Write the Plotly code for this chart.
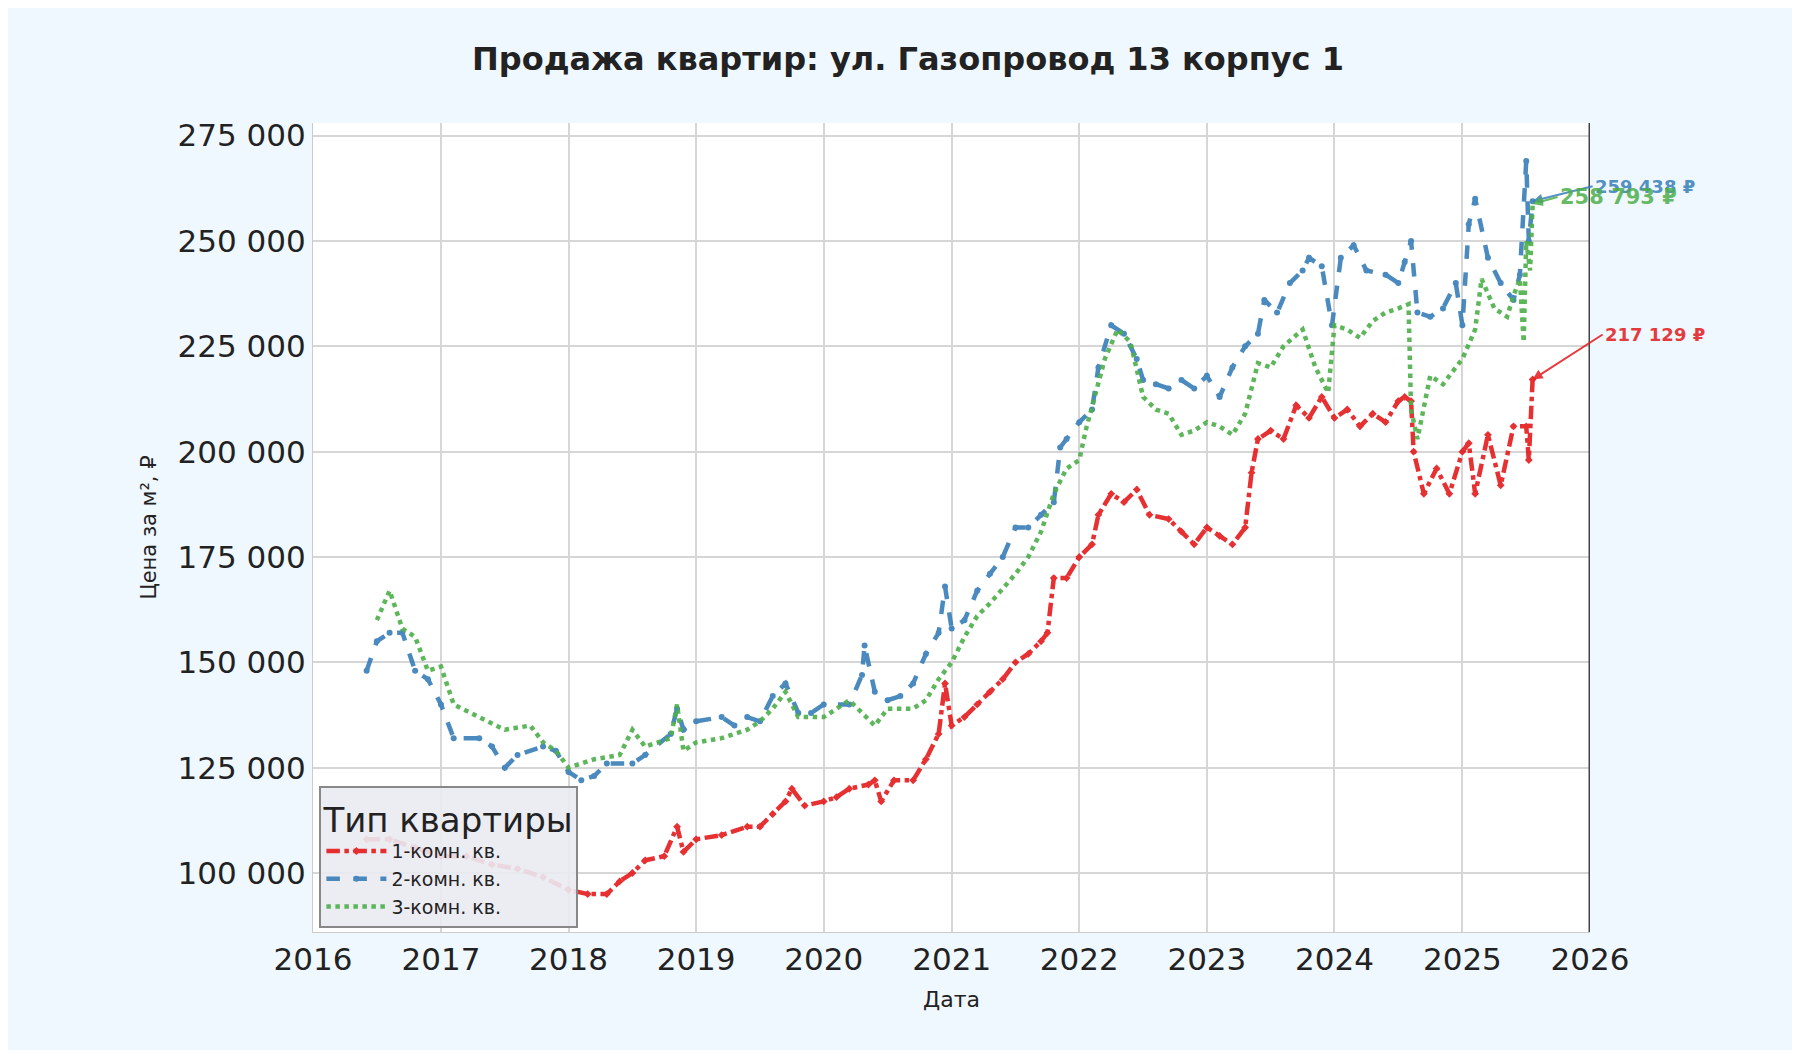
import pandas as pd
import plotly.graph_objects as go

# fractional years and price per m2
t1 = [2016.42, 2016.6, 2016.8, 2017.0, 2017.2, 2017.4, 2017.6, 2017.8, 2018.0, 2018.15, 2018.3, 2018.4, 2018.5,
      2018.6, 2018.75, 2018.85, 2018.9, 2019.0, 2019.2, 2019.4, 2019.5, 2019.6, 2019.7, 2019.75, 2019.85, 2020.0,
      2020.1, 2020.2, 2020.35, 2020.4, 2020.45, 2020.55, 2020.7, 2020.8, 2020.9, 2020.95, 2021.0, 2021.1, 2021.2,
      2021.3, 2021.4, 2021.5, 2021.6, 2021.7, 2021.75, 2021.8, 2021.9, 2022.0, 2022.1, 2022.15, 2022.25, 2022.35,
      2022.45, 2022.55, 2022.7, 2022.8, 2022.9, 2023.0, 2023.1, 2023.2, 2023.3, 2023.35, 2023.4, 2023.5, 2023.6,
      2023.7, 2023.8, 2023.9, 2024.0, 2024.1, 2024.2, 2024.3, 2024.4, 2024.5, 2024.55, 2024.6, 2024.62, 2024.7,
      2024.8, 2024.9, 2025.0, 2025.05, 2025.1, 2025.2, 2025.3, 2025.4, 2025.5, 2025.52, 2025.55]
p1 = [108, 108, 106, 104, 104, 102, 101, 99, 96, 95, 95, 98, 100, 103, 104, 111, 105, 108, 109, 111, 111, 114, 117,
      120, 116, 117, 118, 120, 121, 122, 117, 122, 122, 127, 133, 145, 135, 137, 140, 143, 146, 150, 152, 155, 157,
      170, 170, 175, 178, 185, 190, 188, 191, 185, 184, 181, 178, 182, 180, 178, 182, 195, 203, 205, 203, 211, 208,
      213, 208, 210, 206, 209, 207, 212, 213, 212, 200, 190, 196, 190, 200, 202, 190, 204, 192, 206, 206, 198, 217.129]

t2 = [2016.42, 2016.5, 2016.6, 2016.7, 2016.8, 2016.9, 2017.0, 2017.1, 2017.3, 2017.4, 2017.5, 2017.6, 2017.8,
      2017.9, 2018.0, 2018.1, 2018.2, 2018.3, 2018.5, 2018.6, 2018.8, 2018.85, 2018.9, 2019.0, 2019.2, 2019.3,
      2019.4, 2019.5, 2019.6, 2019.7, 2019.8, 2019.9, 2020.0, 2020.2, 2020.3, 2020.32, 2020.4, 2020.5, 2020.6,
      2020.7, 2020.8, 2020.9, 2020.95, 2021.0, 2021.1, 2021.2, 2021.3, 2021.4, 2021.5, 2021.6, 2021.7, 2021.8,
      2021.85, 2021.9, 2022.0, 2022.1, 2022.15, 2022.25, 2022.35, 2022.45, 2022.5, 2022.6, 2022.7, 2022.8, 2022.9,
      2023.0, 2023.1, 2023.2, 2023.3, 2023.4, 2023.45, 2023.55, 2023.65, 2023.75, 2023.8, 2023.9, 2023.98, 2024.05,
      2024.15, 2024.25, 2024.4, 2024.5, 2024.55, 2024.6, 2024.65, 2024.75, 2024.85, 2024.95, 2025.0, 2025.05,
      2025.1, 2025.2, 2025.3, 2025.4, 2025.45, 2025.5, 2025.52, 2025.55]
p2 = [148, 155, 157, 157, 148, 146, 140, 132, 132, 130, 125, 128, 130, 129, 124, 122, 123, 126, 126, 128, 133, 139,
      134, 136, 137, 135, 137, 136, 142, 145, 138, 138, 140, 140, 147, 154, 143, 141, 142, 145, 152, 157, 168, 158,
      160, 167, 171, 175, 182, 182, 185, 188, 201, 203, 207, 210, 220, 230, 228, 222, 217, 216, 215, 217, 215, 218,
      213, 220, 225, 228, 236, 233, 240, 243, 246, 244, 230, 246, 249, 243, 242, 240, 245, 250, 233, 232, 234, 240,
      230, 254, 260, 246, 240, 236, 242, 269, 250, 259.438]

t3 = [2016.5, 2016.6, 2016.7, 2016.8, 2016.9, 2017.0, 2017.1, 2017.3, 2017.5, 2017.7, 2017.8, 2017.9, 2018.0,
      2018.2, 2018.4, 2018.5, 2018.6, 2018.8, 2018.85, 2018.9, 2019.0, 2019.2, 2019.4, 2019.5, 2019.6, 2019.7,
      2019.8, 2019.9, 2020.0, 2020.2, 2020.3, 2020.4, 2020.5, 2020.7, 2020.8, 2020.9, 2021.0, 2021.1, 2021.2,
      2021.3, 2021.5, 2021.6, 2021.7, 2021.8, 2021.9, 2022.0, 2022.05, 2022.2, 2022.3, 2022.4, 2022.5, 2022.6,
      2022.7, 2022.8, 2022.9, 2023.0, 2023.1, 2023.2, 2023.3, 2023.4, 2023.5, 2023.6, 2023.75, 2023.85, 2023.95,
      2024.0, 2024.1, 2024.2, 2024.3, 2024.4, 2024.5, 2024.58, 2024.6, 2024.65, 2024.75, 2024.85, 2024.95, 2025.0,
      2025.1, 2025.15, 2025.25, 2025.35, 2025.4, 2025.45, 2025.48, 2025.5, 2025.53, 2025.55]
p3 = [160, 167, 158, 156, 148, 149, 140, 137, 134, 135, 131, 129, 125, 127, 128, 134, 130, 132, 140, 129, 131, 132,
      134, 136, 139, 143, 137, 137, 137, 141, 138, 135, 139, 139, 141, 146, 150, 156, 161, 164, 171, 175, 181, 190,
      196, 198, 205, 222, 229, 226, 213, 210, 209, 204, 205, 207, 206, 204, 209, 221, 220, 225, 229, 220, 214, 230,
      229, 227, 231, 233, 234, 235, 210, 203, 218, 216, 220, 222, 229, 241, 234, 232, 237, 241, 226, 250, 243, 258.793]

names = ["1-комн. кв.", "2-комн. кв.", "3-комн. кв."]
colors = ["#e41a1c", "#377eb8", "#4daf4a"]


def to_dates(ts):
    return [pd.Timestamp(int(t), 1, 1) + pd.Timedelta(days=(t - int(t)) * 365.25) for t in ts]


fig = go.Figure()
series = [(t1, p1, "dashdot", "diamond"), (t2, p2, "dash", "circle"), (t3, p3, "dot", None)]
for (t, p, dash, sym), name, c in zip(series, names, colors):
    fig.add_trace(go.Scatter(
        x=to_dates(t), y=[v * 1000 for v in p], name=name,
        mode="lines+markers" if sym else "lines",
        line=dict(color=c, width=4.5, dash=dash),
        marker=dict(symbol=sym, size=6, color=c) if sym else None,
        opacity=0.9,
    ))

# price labels at the last points
labels = [("217 129 ₽", t1[-1], p1[-1], 70, -45), ("259 438 ₽", t2[-1], p2[-1], 60, -15),
          ("258 793 ₽", t3[-1], p3[-1], 25, -7)]
for (txt, t, p, ax, ay), c in zip(labels, colors):
    fig.add_annotation(x=to_dates([t])[0], y=p * 1000, text=f"<b>{txt}</b>", showarrow=True,
                       arrowhead=2, arrowsize=1, arrowwidth=2, arrowcolor=c, ax=ax, ay=ay,
                       xanchor="left", font=dict(color=c, size=18 if c != colors[2] else 21),
                       opacity=0.85)

fig.update_layout(
    width=1800, height=1050,
    paper_bgcolor="#f0f8ff", plot_bgcolor="white",
    font=dict(family="DejaVu Sans", color="#222"),
    title=dict(text="<b>Продажа квартир: ул. Газопровод 13 корпус 1</b>", x=0.5, y=0.962,
               font=dict(size=32)),
    margin=dict(l=305, r=218, t=115, b=126),
    legend=dict(title=dict(text="Тип квартиры", font=dict(size=34)), font=dict(size=19),
                x=0.005, y=0.005, xanchor="left", yanchor="bottom", itemwidth=60,
                bgcolor="rgba(234,234,242,0.9)", bordercolor="#888", borderwidth=2),
)
fig.update_xaxes(title=dict(text="Дата", font=dict(size=22)), range=["2016-01-01", "2026-01-01"],
                 dtick="M12", tickformat="%Y", tickfont=dict(size=31), showgrid=True,
                 gridcolor="#d6d6d6", gridwidth=2, showline=True, linecolor="#ccc", mirror=False,
                 ticks="", zeroline=False)
fig.update_yaxes(title=dict(text="Цена за м², ₽", font=dict(size=21)), range=[86000, 278000],
                 tickvals=[100000, 125000, 150000, 175000, 200000, 225000, 250000, 275000],
                 ticktext=["100 000", "125 000", "150 000", "175 000", "200 000", "225 000", "250 000", "275 000"],
                 tickfont=dict(size=31), showgrid=True, gridcolor="#d6d6d6", gridwidth=2,
                 showline=True, linecolor="#ccc", zeroline=False)
# dark right-hand spine at 2026
fig.add_shape(type="line", xref="x", yref="paper", x0="2026-01-01", x1="2026-01-01", y0=0, y1=1,
              line=dict(color="#444", width=3))

fig.write_html("out.html")
